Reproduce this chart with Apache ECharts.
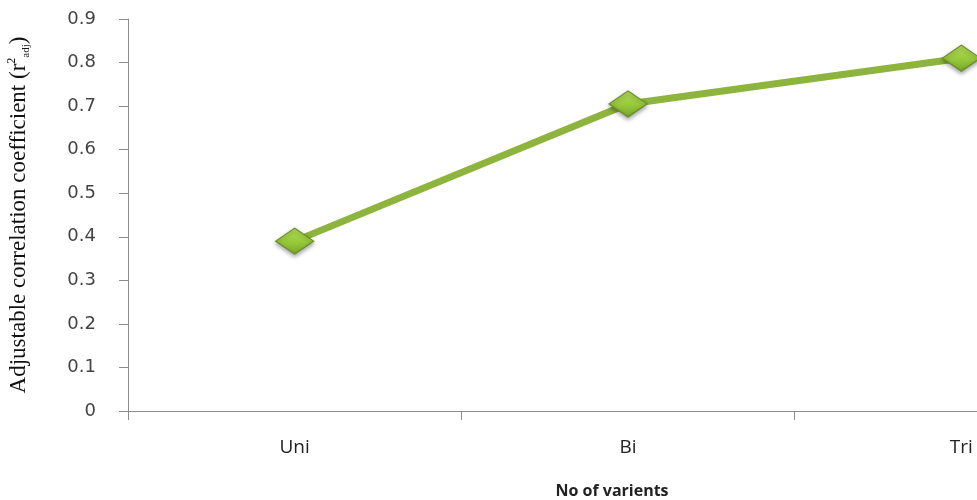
<!DOCTYPE html>
<html>
<head>
<meta charset="utf-8">
<script src="https://cdn.jsdelivr.net/npm/echarts@6/dist/echarts.min.js"></script>
<style>
  html, body { margin: 0; padding: 0; background: #fff; }
  #chart { width: 977px; height: 500px; }
</style>
</head>
<body>
<div id="chart"></div>
<script>
// Number of variables in the regression model
const categories = ['Uni', 'Bi', 'Tri'];
// Adjusted r² for each model
const r2adj = [0.39, 0.705, 0.81];
// Value-axis range and step
const yMin = 0;
const yMax = 0.9;
const yStep = 0.1;

const chart = echarts.init(document.getElementById('chart'), null, { renderer: 'canvas' });

const axisGray = '#8c8c8c';

chart.setOption({
  animation: false,
  backgroundColor: '#ffffff',
  grid: {
    left: 128,
    top: 19,
    bottom: 89,
    right: -151,
    containLabel: false,
    outerBoundsMode: 'none'
  },
  xAxis: {
    type: 'category',
    data: categories,
    boundaryGap: true,
    name: 'No of varients',
    nameLocation: 'middle',
    nameGap: 72,
    nameTextStyle: {
      fontFamily: 'Open Sans',
      fontWeight: 'bold',
      fontSize: 16,
      color: '#222',
      padding: [0, 32, 0, 0]
    },
    axisLine: { lineStyle: { color: axisGray, width: 1 } },
    axisTick: { show: true, length: 9, lineStyle: { color: axisGray } },
    axisLabel: {
      margin: 27,
      fontFamily: 'Open Sans',
      fontSize: 19,
      color: '#222'
    },
    splitLine: { show: false }
  },
  yAxis: {
    type: 'value',
    min: yMin,
    max: yMax,
    interval: yStep,
    name: '{t|Adjustable correlation coefficient (r}{sup|2}{sub|adj}{t|)}',
    nameLocation: 'middle',
    nameGap: 96,
    nameRotate: 90,
    nameTextStyle: {
      color: '#111',
      rich: {
        t: { fontFamily: 'Liberation Serif', fontSize: 23, color: '#111', lineHeight: 26 },
        sup: { fontFamily: 'Liberation Serif', fontSize: 12, color: '#111', verticalAlign: 'top', lineHeight: 26 },
        sub: { fontFamily: 'Liberation Serif', fontSize: 11, color: '#111', verticalAlign: 'bottom', lineHeight: 26 }
      }
    },
    axisLine: { show: true, lineStyle: { color: axisGray, width: 1 } },
    axisTick: { show: true, length: 9, lineStyle: { color: axisGray } },
    axisLabel: {
      margin: 32,
      fontFamily: 'DejaVu Sans',
      fontSize: 18,
      color: '#444',
      formatter: function (v) { return v === 0 ? '0' : v.toFixed(1); }
    },
    splitLine: { show: false }
  },
  series: [{
    type: 'line',
    data: r2adj,
    symbol: 'diamond',
    symbolSize: [38, 26],
    lineStyle: { color: '#8db43d', width: 7 },
    itemStyle: {
      color: new echarts.graphic.LinearGradient(0, 0, 0, 1, [
        { offset: 0, color: '#b4dc5a' },
        { offset: 0.5, color: '#9acb3c' },
        { offset: 1, color: '#78a82a' }
      ]),
      borderColor: '#6a8f2a',
      borderWidth: 1.2,
      shadowColor: 'rgba(0,0,0,0.35)',
      shadowBlur: 4,
      shadowOffsetY: 2
    },
    z: 3
  }]
});
</script>
</body>
</html>
